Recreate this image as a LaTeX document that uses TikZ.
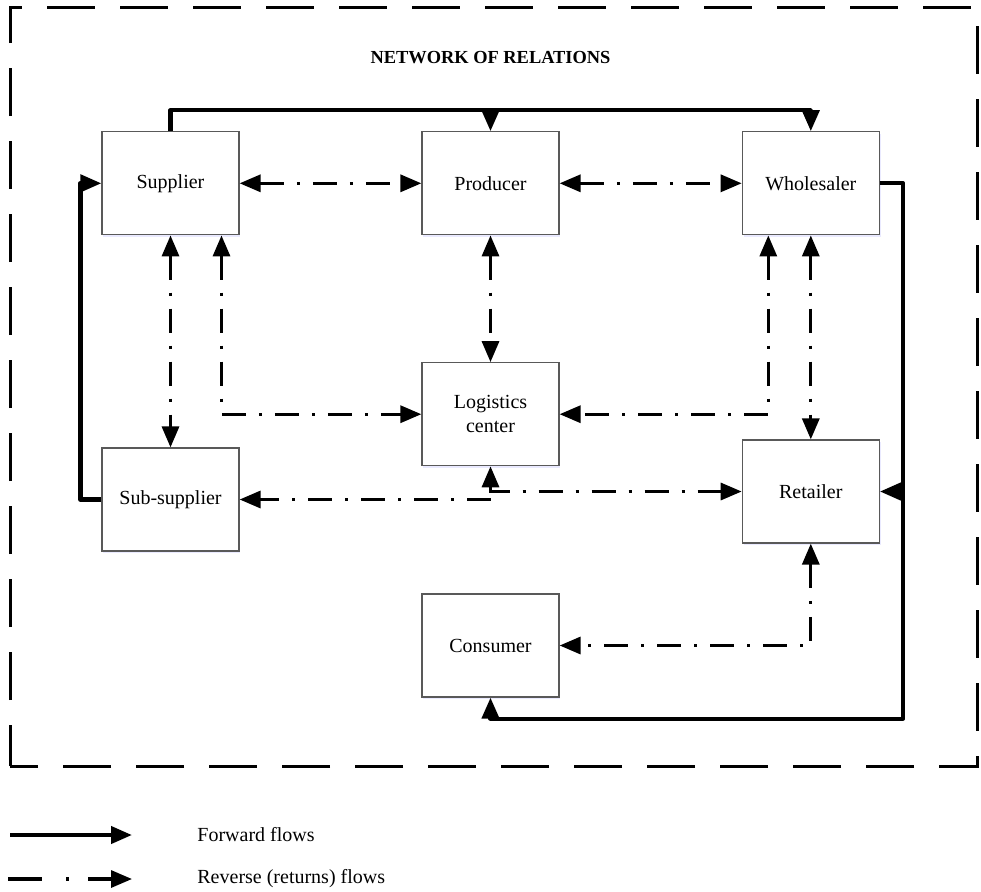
\documentclass[tikz,border=0pt]{standalone}
\usepackage{fontspec}
\setmainfont{Liberation Serif}
\usepackage{tikz}
\usetikzlibrary{positioning}
\usetikzlibrary{arrows.meta,shadows}
\usetikzlibrary{calc}

\begin{document}
\begin{tikzpicture}[x=0.5pt,y=-0.5pt,
  >={Triangle[length=10.5pt,width=8.5pt]},
  box/.style={draw=black!65,fill=white,line width=0.6pt,minimum width=68.5pt,minimum height=51.5pt,inner sep=0pt,align=center,
    drop shadow={shadow xshift=0.6pt,shadow yshift=-0.9pt,fill=blue!10,opacity=0.8}},
  fwd/.style={line width=2.1pt,line join=round},
  rev/.style={line width=1.6pt,dash pattern=on 12pt off 6.5pt on 1.5pt off 6.5pt},
  border/.style={line width=1.5pt,dash pattern=on 24pt off 12.5pt,dash phase=3.5pt},
  legend/.style={anchor=west,inner sep=0pt}]
  \useasboundingbox (0,0) rectangle (981,891);
  % dashed frame round the network
  \draw[border] (10,766) -- (10,7) -- (977,7) -- (977,766) -- cycle;
  \node[font=\bfseries\fontsize{9.2}{11}\selectfont] (T) at (490.5,58) {NETWORK OF RELATIONS};
  % actors
  \node[box] (Sup) at (170.5,183.3) {Supplier};
  \node[box] (Prod) at (490.5,183.3) {Producer};
  \node[box] (Whole) at (810.8,183.3) {Wholesaler};
  \node[box] (Log) at (490.5,414.2) {Logistics\\center};
  \node[box] (Sub) at (170.5,499.5) {Sub-supplier};
  \node[box] (Ret) at (810.8,491.5) {Retailer};
  \node[box] (Con) at (490.5,645.5) {Consumer};
  % forward flows (solid)
  \coordinate (Top) at ($(Sup.north)+(0,-21)$);
  \draw[fwd,->] (Sup.north) -- (Top) -| (Whole.north);
  \draw[fwd,->] (Top -| Prod.north) -- (Prod.north);
  \draw[fwd,->] (Sub.west) -- ++(-21,0) |- (Sup.west);
  \coordinate (R) at ($(Whole.east)+(23,0)$);
  \coordinate (B) at ($(Con.south)+(0,21)$);
  \draw[fwd,->] (Whole.east) -- (R) -- (R |- B) -| (Con.south);
  \draw[fwd,->] (R |- Ret.east) -- (Ret.east);
  % reverse (returns) flows (dash-dot)
  \draw[rev,<->] (Sup.east) -- (Prod.west);
  \draw[rev,<->] (Prod.east) -- (Whole.west);
  \draw[rev,<->] (Sup.south) -- (Sub.north);
  \draw[rev,<->] ($(Sup.south)+(51,0)$) |- (Log.west);
  \draw[rev,<->] (Prod.south) -- (Log.north);
  \draw[rev,<->] ($(Whole.south)+(-42.5,0)$) |- (Log.east);
  \draw[rev,<->] (Whole.south) -- (Ret.north);
  \draw[rev,<->] (Log.south) |- (Ret.west);
  \coordinate (Lc) at (Log.south |- Sub.east);
  \draw[rev,->] (Lc) -- (Sub.east);
  \draw[rev,<->] (Ret.south) |- (Con.east);
  % legend
  \coordinate (Fa) at (10,835); \coordinate (Fb) at (132,835);
  \draw[fwd,->] (Fa) -- (Fb);
  \node[legend] (Ft) at (197,835) {Forward flows};
  \coordinate (Ra) at (8,879); \coordinate (Rb) at (132,879);
  \draw[line width=1.6pt,->,dash pattern=on 17pt off 12pt on 1.5pt off 9.5pt on 40pt] (Ra) -- (Rb);
  \node[legend] (Rt) at (197,879) {Reverse (returns) flows};
\end{tikzpicture}
\end{document}
